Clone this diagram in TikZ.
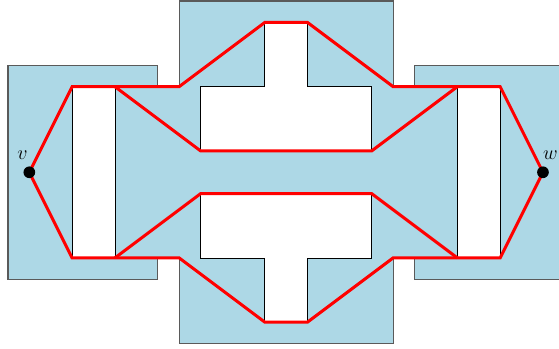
\documentclass[tikz,border=0pt]{standalone}
\usepackage{xcolor}
\usepackage{amsmath}
\usepackage{tikz}
\usetikzlibrary{positioning}
\definecolor{acikMavi}{HTML}{ADD8E6}
\definecolor{kirmizi}{HTML}{FF0000}
\definecolor{koyuGri}{HTML}{5A5A5A}

\begin{document}
\begin{tikzpicture}[x=0.45cm,y=0.45cm,
  nokta/.style={circle,fill=black,inner sep=0pt,minimum size=7pt},
  delik/.style={fill=white,draw=black,line width=0.4pt},
  yol/.style={kirmizi,line width=1.8pt}]
\useasboundingbox (-0.37,-0.22) rectangle (25.75,16.05);
\filldraw[fill=acikMavi,draw=koyuGri,line width=0.7pt]
  (0,3)--(0,13)--(7,13)--(7,12)--(8,12)--(8,16)--(18,16)--(18,12)--(19,12)--(19,13)
  --(26,13)--(26,3)--(19,3)--(19,4)--(18,4)--(18,0)--(8,0)--(8,4)--(7,4)--(7,3)--cycle;
\draw[delik] (3,4) rectangle (5,12);
\draw[delik] (21,4) rectangle (23,12);
\draw[delik] (9,9)--(17,9)--(17,12)--(14,12)--(14,15)--(12,15)--(12,12)--(9,12)--cycle;
\draw[delik] (9,7)--(17,7)--(17,4)--(14,4)--(14,1)--(12,1)--(12,4)--(9,4)--cycle;
\coordinate (v) at (1,8);
\coordinate (w) at (25,8);
\draw[yol] (v)--(3,12)--(8,12)--(12,15)--(14,15)--(18,12)--(23,12)--(w)
  --(23,4)--(18,4)--(14,1)--(12,1)--(8,4)--(3,4)--cycle;
\draw[yol] (5,12)--(9,9)--(17,9)--(21,12);
\draw[yol] (5,4)--(9,7)--(17,7)--(21,4);
\node[nokta] (vnokta) at (v) {};
\node[nokta] (wnokta) at (w) {};
\node[font=\large] (vetiket) at (0.68,8.82) {$v$};
\node[font=\large] (wetiket) at (25.35,8.82) {$w$};
\end{tikzpicture}
\end{document}
